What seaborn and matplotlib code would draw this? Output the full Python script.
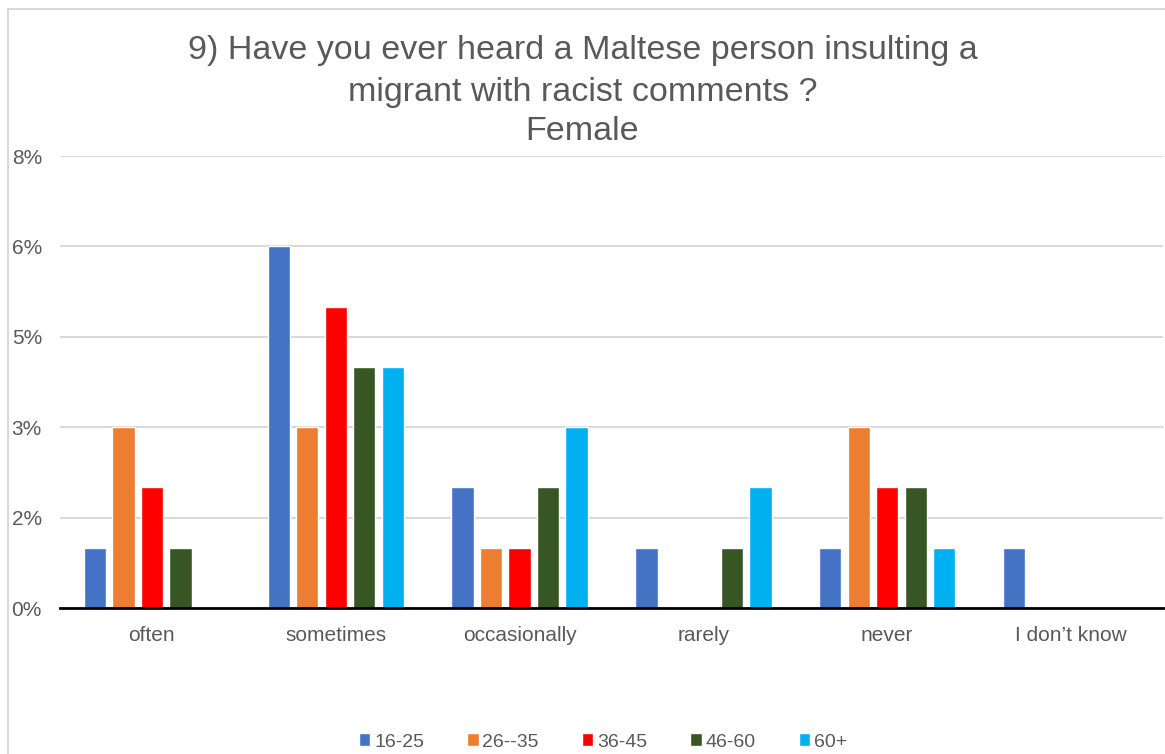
import pandas as pd
import seaborn as sns
import matplotlib.pyplot as plt
from matplotlib.lines import Line2D

# datos (porcentaje sobre el total)
categorias = ['often', 'sometimes', 'occasionally', 'rarely', 'never', 'I don\u2019t know']
grupos = ['16-25', '26--35', '36-45', '46-60', '60+']
v_16_25 = [1, 6, 2, 1, 1, 1]
v_26_35 = [3, 3, 1, 0, 3, 0]
v_36_45 = [2, 5, 1, 0, 2, 0]
v_46_60 = [1, 4, 2, 1, 2, 0]
v_60 = [0, 4, 3, 2, 1, 0]
ticks_y = [0, 1.5, 3, 4.5, 6, 7.5]
etiquetas_y = ['0%', '2%', '3%', '5%', '6%', '8%']
colores = ['#4472C4', '#ED7D31', '#FF0000', '#375623', '#00B0F0']

# tabla larga para seaborn
df = pd.DataFrame({'Respuesta': categorias * 5,
                   'Edad': [g for g in grupos for _ in categorias],
                   'Valor': v_16_25 + v_26_35 + v_36_45 + v_46_60 + v_60})

sns.set_style('white')
plt.rcParams['font.family'] = ['Liberation Sans', 'DejaVu Sans']
gris = '#595959'

fig = plt.figure(figsize=(11.65, 7.54), dpi=100)
ax = fig.add_axes([60 / 1165, 1 - 608 / 754, 1103 / 1165, 452 / 754])

sns.barplot(data=df, x='Respuesta', y='Valor', hue='Edad', palette=colores,
            width=0.775, gap=0.22, ax=ax, legend=True, saturation=1)

ax.set_ylim(0, 7.5)
ax.set_xlim(-0.5, 5.5)
ax.set_yticks(ticks_y)
ax.set_yticklabels(etiquetas_y)
ax.yaxis.grid(True, color='#D9D9D9', linewidth=1.5)
ax.set_axisbelow(True)
for s in ['left', 'right', 'top']:
    ax.spines[s].set_visible(False)
ax.spines['bottom'].set_color('black')
ax.spines['bottom'].set_linewidth(2)
ax.tick_params(axis='x', length=0, labelsize=15, colors=gris, pad=13)
ax.tick_params(axis='y', length=0, labelsize=15, colors=gris, pad=13)
ax.set_xlabel('')
ax.set_ylabel('')

# titulo de tres lineas
fig.text(0.5, 1 - 51 / 754, '9) Have you ever heard a Maltese person insulting a',
         ha='center', va='center', fontsize=24.5, color=gris)
fig.text(0.5, 1 - 93 / 754, 'migrant with racist comments ?',
         ha='center', va='center', fontsize=24.5, color=gris)
fig.text(0.5, 1 - 131 / 754, 'Female',
         ha='center', va='center', fontsize=24.5, color=gris)

# leyenda abajo
h, l = ax.get_legend_handles_labels()
ax.get_legend().remove()
fig.legend(h, l, loc='center', bbox_to_anchor=(603 / 1165, 1 - 742 / 754), ncol=5,
           frameon=False, fontsize=14, handlelength=0.6, handleheight=0.6,
           handletextpad=0.2, columnspacing=2.2, labelcolor=gris)

# borde del area del grafico
fig.add_artist(Line2D([7.5 / 1165, 7.5 / 1165], [0, 1 - 8.5 / 754], color='#D9D9D9', linewidth=1.5))
fig.add_artist(Line2D([7.5 / 1165, 1], [1 - 8.5 / 754, 1 - 8.5 / 754], color='#D9D9D9', linewidth=1.5))

plt.savefig('out.png', dpi=100)
